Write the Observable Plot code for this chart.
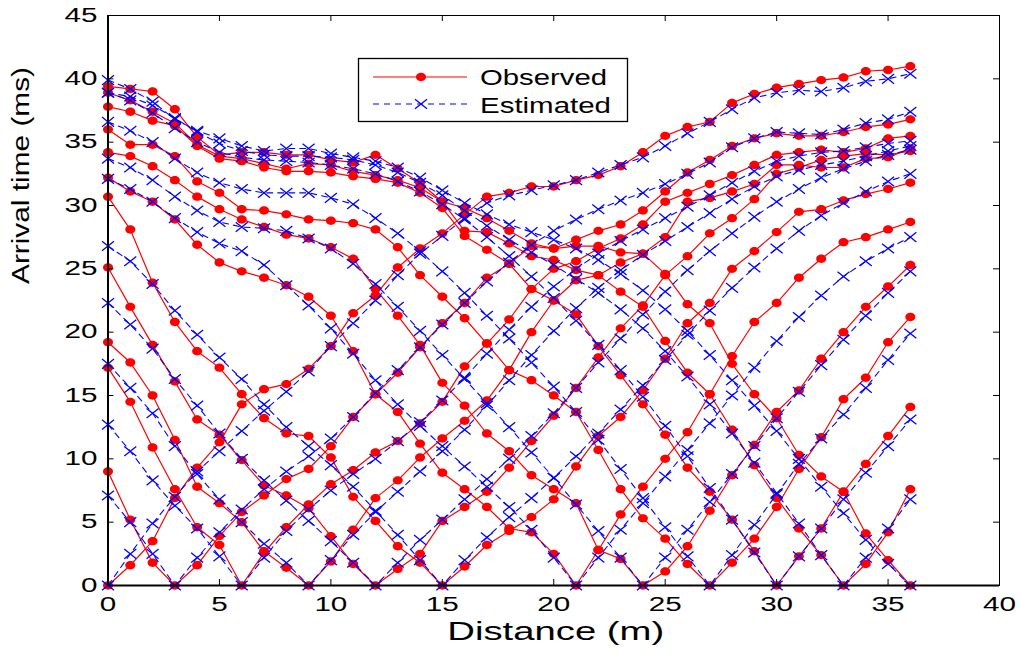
<!DOCTYPE html>
<html><head><meta charset="utf-8">
<script src="https://cdn.jsdelivr.net/npm/d3@7"></script>
<script src="https://cdn.jsdelivr.net/npm/@observablehq/plot@0.6"></script>
<style>html,body{margin:0;padding:0;background:#fff;}#chart{width:1020px;height:654px;overflow:hidden;}</style>
</head><body><div id="chart"></div>
<script>
// ---- data ----
const geophones = [0,1,2,3,4,5,6,7,8,9,10,11,12,13,14,15,16,17,18,19,20,21,22,23,24,25,26,27,28,29,30,31,32,33,34,35,36];
const shots = [0,3,6,9,12,15,21,24,27,30,33,36];

const observed_00 = [0,1.6,3.5,6.9,9.3,11.3,14.3,15.5,15.9,17.1,18.9,21.5,22.9,25.1,26.6,27.8,29.3,30.7,31.0,31.5,31.5,32.0,32.4,33.1,34.2,35.5,36.2,36.6,38.1,38.8,39.3,39.6,39.9,40.1,40.6,40.7,41.0];
const observed_03 = [9.0,5.2,1.8,0,1.6,3.9,5.8,7.1,8.4,9.2,11.0,13.3,15.1,16.8,18.8,20.7,22.3,24.3,25.4,26.8,26.6,27.3,28.0,28.5,29.6,31.1,32.6,33.6,34.7,35.3,35.7,35.5,35.5,35.8,36.2,36.4,36.8];
const observed_06 = [17.2,14.5,10.9,7.6,4.6,3.2,0,2.6,4.6,6.4,8.0,9.1,10.5,11.4,12.8,14.5,17.3,19.1,21.0,23.4,25.0,25.6,26.6,27.4,28.5,30.3,31.0,31.7,32.4,33.2,34.0,34.2,34.4,34.2,34.5,35.3,35.5];
const observed_09 = [19.2,17.6,15.0,11.5,7.8,6.5,5.0,2.7,1.4,0,1.9,4.4,6.9,8.3,10.1,11.6,13.0,14.6,17.0,20.0,22.5,24.1,24.5,25.5,26.2,27.5,30.3,30.6,31.1,31.7,33.2,33.2,33.0,33.0,33.7,33.8,34.5];
const observed_12 = [25.1,22.0,19.0,16.1,13.1,11.9,9.9,7.9,7.1,6.1,3.9,1.7,0,1.3,2.5,5.1,6.2,7.4,9.3,11.4,13.4,15.6,18.0,20.3,22.1,24.5,26.0,27.8,29.0,30.5,32.5,33.0,33.6,33.9,34.1,34.0,34.3];
const observed_15 = [30.7,28.1,23.9,20.8,18.5,17.2,15.1,13.2,12.0,11.8,10.1,7.0,5.1,3.1,1.8,0,1.5,3.2,4.3,5.4,6.8,9.4,11.8,13.3,15.4,17.9,20.7,22.3,25.0,26.4,27.9,29.5,29.7,30.4,30.9,31.3,31.8];
const observed_21 = [32.2,31.1,30.3,28.9,26.9,25.5,24.8,24.3,23.7,22.8,21.3,18.5,15.1,13.7,11.2,8.9,7.6,6.2,4.5,4.2,2.5,0,2.8,5.6,7.8,10.0,12.1,15.1,18.1,20.8,22.3,24.3,25.8,27.1,27.5,28.1,28.7];
const observed_24 = [34.2,33.9,33.1,32.0,30.7,29.7,28.9,28.3,27.7,27.4,26.7,25.8,23.4,21.3,19.0,16.0,14.2,12.0,10.6,8.7,7.6,6.5,2.8,2.1,0,1.1,3.1,5.9,8.7,11.1,13.7,15.4,17.9,20.0,22.0,23.6,25.3];
const observed_27 = [36.0,34.8,34.8,33.9,31.9,31.0,29.7,29.6,29.3,28.9,28.8,28.6,28.1,26.7,24.5,22.8,21.1,19.1,17.0,16.2,15.0,13.7,10.7,7.6,5.3,3.7,1.7,0,1.8,3.7,6.2,9.2,11.7,14.7,16.4,19.2,21.2];
const observed_30 = [37.8,37.4,36.7,36.3,34.7,33.7,33.5,33.0,32.7,32.7,32.6,32.3,32.1,31.8,31.0,29.8,27.6,26.5,25.4,23.4,22.5,21.4,18.9,16.6,14.3,11.9,9.3,7.4,5.2,2.7,0,2.3,4.5,7.4,9.6,11.8,14.1];
const observed_33 = [38.9,38.3,37.4,36.5,34.8,33.9,33.7,33.3,32.9,33.3,33.2,32.7,32.4,32.0,31.4,30.3,28.0,27.9,27.0,26.0,25.7,24.9,24.5,23.2,22.0,19.3,16.8,15.1,12.3,9.5,6.9,4.5,2.4,0,1.7,4.2,7.6];
const observed_36 = [39.4,39.2,39.0,37.6,35.4,34.0,34.2,34.2,34.0,34.0,33.6,33.4,34.0,32.9,31.8,30.3,29.8,29.0,28.0,27.0,26.6,26.8,26.8,26.3,26.2,24.6,22.2,20.7,17.5,15.1,13.2,10.3,8.6,7.4,4.1,2.0,0];

const estimated_00 = [0,2.5,4.9,7.0,9.0,10.6,12.2,13.8,15.3,16.9,18.9,20.7,22.5,24.5,26.2,27.6,29.0,30.2,30.8,31.2,31.6,32.0,32.6,33.2,33.8,34.7,35.7,36.6,37.6,38.5,38.9,39.1,39.0,39.3,39.8,40.0,40.4];
const estimated_03 = [7.1,5.0,2.5,0,2.2,4.2,6.0,7.6,9.0,10.2,11.6,13.3,15.2,17.0,18.8,20.6,22.3,24.0,25.5,26.9,28.0,28.9,29.7,30.4,31.0,31.7,32.5,33.4,34.6,35.3,35.8,35.7,35.6,36.0,36.5,36.8,37.4];
const estimated_06 = [12.7,10.6,8.3,6.3,4.5,2.3,0,2.2,4.3,6.0,7.5,8.8,10.0,11.4,12.9,14.6,16.4,18.3,20.2,22.0,23.6,25.0,26.2,27.2,28.1,29.0,29.9,30.8,31.8,32.7,33.5,33.9,34.2,34.3,34.6,34.9,35.1];
const estimated_09 = [17.5,15.6,13.6,11.0,8.8,6.8,5.0,3.3,1.8,0,2.0,4.0,5.8,7.4,9.0,10.6,12.3,14.2,16.2,18.2,20.1,21.9,23.5,24.9,26.1,27.2,28.3,29.4,30.5,31.5,32.3,32.8,33.2,33.5,33.9,34.3,34.7];
const estimated_12 = [22.3,20.6,18.7,16.3,14.2,12.0,10.0,8.3,6.7,5.1,3.5,1.8,0,1.8,3.6,5.2,6.8,8.4,10.0,11.8,13.6,15.6,17.6,19.5,21.4,23.2,24.9,26.4,27.8,29.1,30.3,31.3,32.2,32.9,33.5,34.0,34.4];
const estimated_15 = [26.8,25.6,23.8,21.7,19.8,18.0,16.3,14.3,12.5,11.0,9.5,7.8,5.9,4.0,2.0,0,2.0,3.8,5.4,6.9,8.5,10.2,12.0,13.9,15.8,17.8,19.8,21.7,23.5,25.1,26.6,28.0,29.2,30.2,31.1,31.9,32.5];
const estimated_21 = [32.1,31.3,30.3,29.0,27.9,27.0,26.4,25.3,23.7,22.1,20.3,18.3,16.2,14.3,12.6,11.0,9.4,7.8,6.2,4.4,2.2,0,2.2,4.4,6.5,8.6,10.7,12.8,15.0,17.2,19.3,21.2,22.9,24.4,25.6,26.6,27.5];
const estimated_24 = [33.7,33.0,32.0,30.7,29.6,28.7,28.3,28.2,28.0,27.4,26.6,25.4,23.8,22.0,20.1,18.2,16.3,14.4,12.5,10.5,8.5,6.4,4.3,2.2,0,2.2,4.4,6.6,8.8,11.0,13.2,15.3,17.4,19.4,21.3,23.1,24.8];
const estimated_27 = [36.6,35.9,35.0,33.7,32.6,31.8,31.3,31.0,31.0,31.0,30.6,30.1,29.0,27.8,26.4,24.8,23.1,21.3,19.5,17.6,15.7,13.7,11.5,9.2,6.9,4.6,2.3,0,2.4,4.8,7.2,9.6,11.6,13.5,15.6,17.8,19.9];
const estimated_30 = [38.9,38.3,37.3,36.1,35.0,34.2,33.8,33.6,33.5,33.4,33.2,32.9,32.5,31.9,31.1,30.1,28.9,27.5,26.0,24.4,22.7,20.9,19.0,17.0,14.9,12.6,10.2,7.7,5.2,2.6,0,2.3,4.5,6.8,8.9,11.0,13.1];
const estimated_33 = [38.9,38.6,37.9,36.9,35.8,34.9,34.3,34.0,33.9,33.9,33.8,33.6,33.2,32.6,31.8,30.8,29.6,28.4,27.3,26.3,25.3,24.2,23.1,21.8,20.3,18.5,16.5,14.3,12.0,9.7,7.3,4.9,2.4,0,2.2,4.5,6.8];
const estimated_36 = [39.9,39.2,38.2,36.8,35.9,35.3,34.7,34.3,34.5,34.5,34.1,33.8,33.5,33.0,32.2,31.2,30.2,29.3,28.5,27.9,27.3,26.6,25.7,24.6,23.3,21.8,20.1,18.2,16.2,14.2,12.2,10.0,7.8,5.7,3.6,1.7,0];

const xTicks = [0,5,10,15,20,25,30,35,40];
const yTicks = [0,5,10,15,20,25,30,35,40,45];
const xTitle = "Distance (m)";
const yTitle = "Arrival time (ms)";
const legendLabels = ["Observed", "Estimated"];

// ---- build table ----
const observedByShot = [observed_00,observed_03,observed_06,observed_09,observed_12,observed_15,observed_21,observed_24,observed_27,observed_30,observed_33,observed_36];
const estimatedByShot = [estimated_00,estimated_03,estimated_06,estimated_09,estimated_12,estimated_15,estimated_21,estimated_24,estimated_27,estimated_30,estimated_33,estimated_36];
const rows = [];
shots.forEach((s, i) => geophones.forEach((g, j) => rows.push({shot: s, g, obs: observedByShot[i][j], est: estimatedByShot[i][j]})));

// ---- symbols ----
const RX = 5.0, RY = 4.2, K = 0.5523;
function ellipsePath(ctx, cx, cy) {
  ctx.moveTo(cx + RX, cy);
  ctx.bezierCurveTo(cx + RX, cy + RY*K, cx + RX*K, cy + RY, cx, cy + RY);
  ctx.bezierCurveTo(cx - RX*K, cy + RY, cx - RX, cy + RY*K, cx - RX, cy);
  ctx.bezierCurveTo(cx - RX, cy - RY*K, cx - RX*K, cy - RY, cx, cy - RY);
  ctx.bezierCurveTo(cx + RX*K, cy - RY, cx + RX, cy - RY*K, cx + RX, cy);
  ctx.closePath();
}
const XA = 6.0, XB = 4.8;
function crossPath(ctx, cx, cy) {
  ctx.moveTo(cx - XA, cy - XB); ctx.lineTo(cx + XA, cy + XB);
  ctx.moveTo(cx - XA, cy + XB); ctx.lineTo(cx + XA, cy - XB);
}
const ellipseSym = {draw(ctx) { ellipsePath(ctx, 0, 0); }};
const crossSym = {draw(ctx) { crossPath(ctx, 0, 0); }};

const RED = "#ff0000", BLUE = "#0000ff";
const FONT = "'Liberation Sans', Arial, Helvetica, sans-serif";

const chart = Plot.plot({
  width: 1020, height: 654,
  marginLeft: 107.5, marginRight: 21, marginTop: 15, marginBottom: 69,
  style: {fontFamily: FONT, background: "#fff", color: "#000", overflow: "visible"},
  x: {domain: [0, 40]},
  y: {domain: [0, 45]},
  marks: [
    Plot.line(rows, {x: "g", y: "obs", z: "shot", stroke: RED, strokeWidth: 1.2}),
    Plot.dot(rows, {x: "g", y: "obs", symbol: ellipseSym, r: 4.5, fill: RED, stroke: "none"}),
    Plot.line(rows, {x: "g", y: "est", z: "shot", stroke: BLUE, strokeWidth: 1.1, strokeDasharray: "6,5"}),
    Plot.dot(rows, {x: "g", y: "est", symbol: crossSym, r: 5, fill: "none", stroke: BLUE, strokeWidth: 1.3}),
    Plot.frame({stroke: "#000", strokeWidth: 1}),
    Plot.ruleX([0], {stroke: "#000", strokeWidth: 2}),
    Plot.ruleY([0], {stroke: "#000", strokeWidth: 2}),
    Plot.tickX(xTicks, {x: d => d, insetTop: 564, stroke: "#000", strokeWidth: 1}),
    Plot.tickX(xTicks, {x: d => d, insetBottom: 564, stroke: "#000", strokeWidth: 1}),
    Plot.tickY(yTicks, {y: d => d, insetRight: 885.5, stroke: "#000", strokeWidth: 1}),
    Plot.tickY(yTicks, {y: d => d, insetLeft: 885.5, stroke: "#000", strokeWidth: 1}),
    Plot.axisX(xTicks, {tickSize: 0, tickPadding: 12, label: null, fontSize: 19.5, tickFormat: d => String(d)}),
    Plot.axisY(yTicks, {tickSize: 0, tickPadding: 10.5, label: null, fontSize: 19.5, tickFormat: d => String(d)}),
    Plot.text([xTitle], {frameAnchor: "bottom", dx: 2, dy: 46, fontSize: 26, lineAnchor: "middle", text: d => d}),
    Plot.text([yTitle], {frameAnchor: "left", dx: -86.5, dy: -16.5, rotate: -90, fontSize: 23, lineAnchor: "middle", text: d => d})
  ]
});
document.getElementById("chart").appendChild(chart);

// ---- typography adjustments (wide MATLAB-style glyphs) ----
const svg = d3.select(chart.tagName.toLowerCase() === "svg" ? chart : chart.querySelector("svg"));
svg.selectAll('g[aria-label="x-axis tick label"] text, g[aria-label="y-axis tick label"] text').each(function() {
  const n = this.textContent.length;
  this.setAttribute("textLength", 16.5 * n);
  this.setAttribute("lengthAdjust", "spacingAndGlyphs");
});
svg.selectAll('g[aria-label="text"] text').each(function() {
  const t = this.textContent;
  if (t === xTitle || t === yTitle) { this.setAttribute("textLength", 217); this.setAttribute("lengthAdjust", "spacingAndGlyphs"); }
});

// ---- legend (inside the axes, as in the original) ----
const lg = svg.append("g").attr("aria-label", "legend").attr("text-anchor", "start");
lg.append("rect").attr("x", 358.5).attr("y", 58.5).attr("width", 269).attr("height", 63)
  .attr("fill", "#fff").attr("stroke", "#000").attr("stroke-width", 1.3);
lg.append("line").attr("x1", 373).attr("x2", 467).attr("y1", 77).attr("y2", 77)
  .attr("stroke", RED).attr("stroke-width", 1.2);
{ const p = d3.path(); ellipsePath(p, 421, 77); lg.append("path").attr("d", p.toString()).attr("fill", RED); }
lg.append("text").attr("x", 480).attr("y", 84.5).attr("font-size", 22).attr("font-family", FONT)
  .attr("text-anchor", "start").attr("textLength", 127).attr("lengthAdjust", "spacingAndGlyphs").text(legendLabels[0]);
lg.append("line").attr("x1", 373).attr("x2", 467).attr("y1", 104).attr("y2", 104)
  .attr("stroke", BLUE).attr("stroke-width", 1.1).attr("stroke-dasharray", "6,5");
{ const p = d3.path(); crossPath(p, 421, 104); lg.append("path").attr("d", p.toString()).attr("fill", "none").attr("stroke", BLUE).attr("stroke-width", 1.3); }
lg.append("text").attr("x", 480).attr("y", 113).attr("font-size", 22).attr("font-family", FONT)
  .attr("text-anchor", "start").attr("textLength", 131).attr("lengthAdjust", "spacingAndGlyphs").text(legendLabels[1]);
</script>
</body></html>
